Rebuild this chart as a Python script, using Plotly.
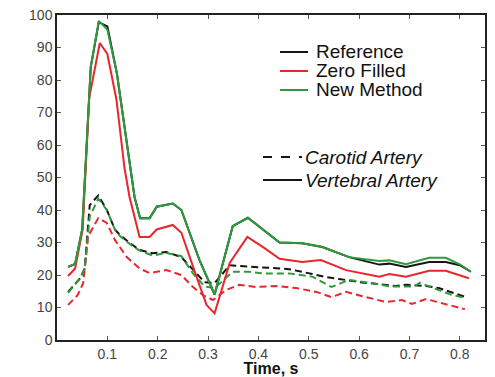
import plotly.graph_objects as go

# ---- data ----
vert_ref_t = [0.022, 0.036, 0.05, 0.067, 0.083, 0.1, 0.119, 0.141, 0.154, 0.165, 0.184, 0.198, 0.23, 0.247,
              0.283, 0.313, 0.349, 0.379, 0.41, 0.442, 0.487, 0.527, 0.58, 0.64, 0.66, 0.693, 0.739, 0.772, 0.8, 0.822]
vert_ref_v = [22.5, 23.4, 34, 84, 97.8, 96.5, 82, 58.5, 44, 37.5, 37.5, 41, 42, 40,
              24.6, 14, 35, 37.6, 34, 30, 29.8, 28.6, 25.5, 23.2, 23.5, 22.5, 24, 24, 23, 21]
vert_new_v = [22.5, 23.4, 34, 84, 98.2, 95.5, 82, 58.5, 44, 37.5, 37.5, 41, 42, 40,
              24.6, 14, 35, 37.6, 34, 30, 29.8, 28.6, 25.5, 24.3, 24.5, 23.3, 25.3, 25.3, 23.3, 21]

vert_zf_t = [0.022, 0.036, 0.051, 0.064, 0.085, 0.1, 0.118, 0.134, 0.144, 0.164, 0.184, 0.198, 0.23, 0.247,
             0.277, 0.297, 0.313, 0.343, 0.378, 0.41, 0.442, 0.487, 0.524, 0.574, 0.64, 0.66, 0.693, 0.739, 0.772, 0.818]
vert_zf_v = [19.7, 22, 34, 74.5, 91.4, 88, 74, 53, 44, 31.7, 31.7, 34, 35.4, 33,
             19.5, 10.8, 8.2, 23.7, 31.7, 28.5, 25, 24, 24.6, 21.5, 19.5, 20.3, 19.5, 21.3, 21.3, 19]

car_ref_t = [0.022, 0.046, 0.055, 0.065, 0.082, 0.099, 0.115, 0.125, 0.145, 0.164, 0.19, 0.217, 0.247, 0.27,
             0.293, 0.313, 0.343, 0.362, 0.402, 0.461, 0.507, 0.53, 0.56, 0.6, 0.64, 0.673, 0.693, 0.733, 0.758, 0.785, 0.81]
car_ref_v = [14.8, 19, 22, 41.5, 44.5, 40, 34, 32.3, 29.8, 27.7, 26.7, 27.1, 25.5, 21.5,
             17.8, 17.5, 23, 22.8, 22.4, 21.8, 20.3, 19.5, 18.8, 17.8, 17.2, 16.6, 17, 16.6, 16, 14.5, 13.3]

car_new_t = [0.022, 0.046, 0.055, 0.065, 0.082, 0.099, 0.115, 0.125, 0.145, 0.164, 0.19, 0.217, 0.247, 0.27,
             0.293, 0.313, 0.349, 0.38, 0.41, 0.461, 0.507, 0.53, 0.545, 0.58, 0.626, 0.66, 0.71, 0.72, 0.758, 0.785, 0.81]
car_new_v = [14.5, 19, 22, 38, 43.5, 40, 34, 32, 29.5, 27.5, 26, 26.8, 25.8, 20.5,
             16.5, 16, 21, 21, 20.5, 20.5, 19.5, 17.5, 16.3, 18.5, 17.5, 16.5, 16.5, 17.6, 15.5, 13.8, 13]

car_zf_t = [0.022, 0.041, 0.052, 0.062, 0.082, 0.099, 0.115, 0.138, 0.164, 0.184, 0.198, 0.217, 0.247, 0.27,
            0.29, 0.31, 0.336, 0.362, 0.396, 0.435, 0.475, 0.515, 0.545, 0.574, 0.614, 0.653, 0.685, 0.705, 0.733, 0.758, 0.785, 0.81]
car_zf_v = [10.8, 13.8, 17.5, 32, 37.5, 36, 30.8, 25.6, 22, 20.6, 21, 21.5, 20, 16.3,
            13.8, 12.3, 15.4, 17, 16.3, 16.6, 16, 14.8, 13.2, 14.8, 13.2, 11.7, 12.3, 11.1, 12.6, 11.7, 10.5, 9.5]

x_ticks = [0.1, 0.2, 0.3, 0.4, 0.5, 0.6, 0.7, 0.8]
y_ticks = [0, 10, 20, 30, 40, 50, 60, 70, 80, 90, 100]

method_names = ["Reference", "Zero Filled", "New Method"]
artery_names = ["Carotid Artery", "Vertebral Artery"]

BLACK = "#151515"
RED = "#e8262d"
GREEN = "#2f9a3c"
DASH = "7px,4px"
FONT = "Liberation Sans, Arial"

fig = go.Figure()

series = [
    (car_ref_t, car_ref_v, BLACK, DASH),
    (car_zf_t, car_zf_v, RED, DASH),
    (car_new_t, car_new_v, GREEN, DASH),
    (vert_ref_t, vert_ref_v, BLACK, "solid"),
    (vert_zf_t, vert_zf_v, RED, "solid"),
    (vert_ref_t, vert_new_v, GREEN, "solid"),
]
for t, v, c, d in series:
    fig.add_trace(go.Scatter(x=t, y=v, mode="lines", line=dict(color=c, width=2, dash=d),
                             showlegend=False, hoverinfo="skip"))

# ---- custom legend ----
px_x = lambda p: (p - 57) / 428
px_y = lambda p: (340 - p) / 325
legend_rows = [(method_names[0], BLACK, 52), (method_names[1], RED, 71), (method_names[2], GREEN, 90)]
for name, col, py in legend_rows:
    fig.add_shape(type="line", xref="paper", yref="paper", x0=px_x(280), x1=px_x(308),
                  y0=px_y(py), y1=px_y(py), line=dict(color=col, width=2))
    fig.add_annotation(xref="paper", yref="paper", x=px_x(314), y=px_y(py), text=name,
                       showarrow=False, xanchor="left", yanchor="middle",
                       font=dict(family=FONT, size=19, color="#111"))
for name, d, py in [(artery_names[0], "dash", 157), (artery_names[1], "solid", 180)]:
    fig.add_shape(type="line", xref="paper", yref="paper", x0=px_x(263), x1=px_x(302),
                  y0=px_y(py), y1=px_y(py), line=dict(color=BLACK, width=2, dash=d))
    fig.add_annotation(xref="paper", yref="paper", x=px_x(303), y=px_y(py), text="<i>" + name + "</i>",
                       showarrow=False, xanchor="left", yanchor="middle",
                       font=dict(family=FONT, size=19, color="#111"))

axis_common = dict(showgrid=False, zeroline=False, showline=True, linecolor="#222", linewidth=1.5,
                   mirror="ticks", ticks="inside", ticklen=4, tickcolor="#555", tickwidth=1,
                   automargin=False,
                   tickfont=dict(family=FONT, size=14, color="#444"))

fig.update_layout(
    width=495, height=377,
    margin=dict(l=57, r=10, t=15, b=37),
    paper_bgcolor="white", plot_bgcolor="white",
    xaxis=dict(range=[0, 0.85], tickvals=x_ticks, ticktext=[str(v) for v in x_ticks],
               title=dict(text="<b>Time, s</b>", standoff=6,
                          font=dict(family=FONT, size=16, color="#111")),
               **axis_common),
    yaxis=dict(range=[0, 100], tickvals=y_ticks, ticktext=[str(v) for v in y_ticks], **axis_common),
)

fig.write_html("out.html", config={"displayModeBar": False},
               post_script="document.body.style.margin='0';document.body.style.overflow='hidden';")
